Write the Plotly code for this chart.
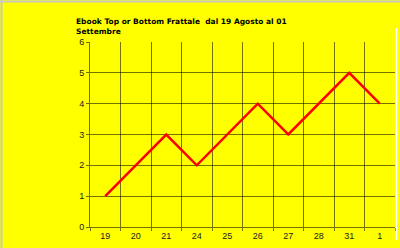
import plotly.graph_objects as go

categories = ["19", "20", "21", "24", "25", "26", "27", "28", "31", "1"]
values = [1, 2, 3, 2, 3, 4, 3, 4, 5, 4]
y_ticks = [0, 1, 2, 3, 4, 5, 6]
title_text = "Ebook Top or Bottom Frattale  dal 19 Agosto al 01<br>Settembre"

grid_col = "rgba(0,0,0,0.55)"

fig = go.Figure()
fig.add_trace(go.Scatter(
    x=categories, y=values, mode="lines",
    line=dict(color="#ff0000", width=2.5),
    hoverinfo="skip", showlegend=False,
))

fig.update_layout(
    width=400, height=248,
    margin=dict(l=90, r=5, t=42, b=21),
    paper_bgcolor="#ffff00", plot_bgcolor="#ffff00",
    font=dict(family="Arial, Liberation Sans", size=9, color="#222222"),
    title=dict(
        text="<b>" + title_text + "</b>",
        x=76 / 400, xanchor="left", xref="container",
        y=1 - 24 / 248, yanchor="top", yref="container",
        font=dict(family="DejaVu Sans", size=7.5, color="#000000"),
    ),
    xaxis=dict(
        type="category", range=[-0.5, 9.5],
        tickson="boundaries", showgrid=True, gridcolor=grid_col, gridwidth=1,
        ticks="outside", ticklen=3, tickcolor=grid_col,
        showline=True, linecolor=grid_col, linewidth=1,
        zeroline=False, tickfont=dict(size=9, color="#222222"),
        fixedrange=True,
    ),
    yaxis=dict(
        range=[0, 6], tickvals=y_ticks,
        showgrid=True, gridcolor=grid_col, gridwidth=1,
        ticks="outside", ticklen=3, tickcolor=grid_col,
        showline=True, linecolor=grid_col, linewidth=1,
        zeroline=False, tickfont=dict(size=9, color="#222222"),
        fixedrange=True,
    ),
    shapes=[
        dict(type="line", xref="paper", yref="paper", x0=-90/305, x1=1+5/305,
             y0=1 + 40.5/185, y1=1 + 40.5/185, line=dict(color="#c8c8c8", width=2)),
        dict(type="line", xref="paper", yref="paper", x0=-88.5/305, x1=-88.5/305,
             y0=-21/185, y1=1 + 42/185, line=dict(color="#c8c8c8", width=2)),
        dict(type="line", xref="paper", yref="paper", x0=1 + 1.5/305, x1=1 + 1.5/305,
             y0=-13/185, y1=1 + 14/185, line=dict(color="#ffffff", width=1.5)),
    ],
)

fig.write_html("out.html", config=dict(displayModeBar=False))
